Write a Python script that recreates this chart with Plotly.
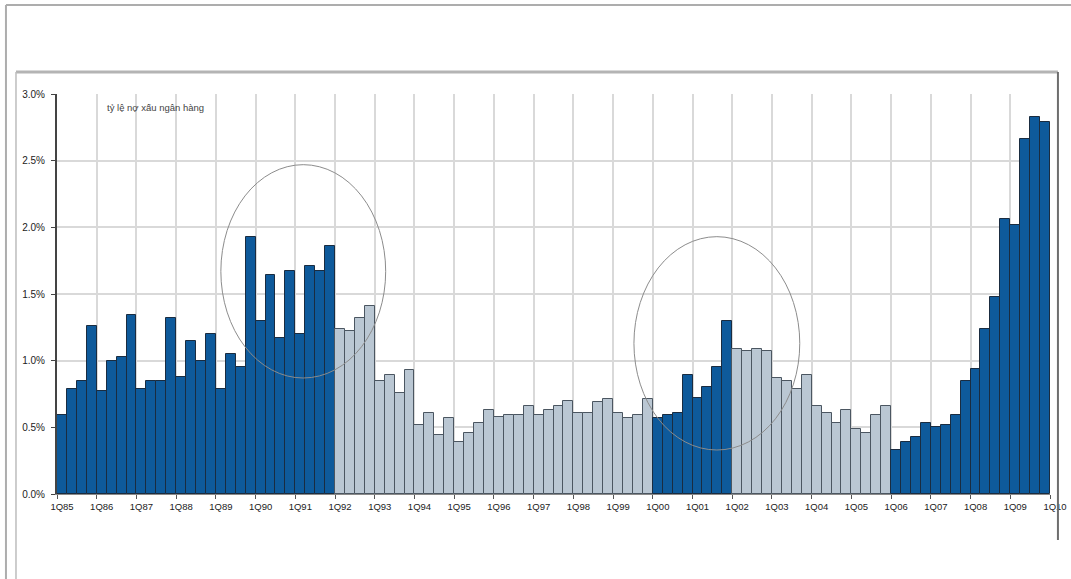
import plotly.graph_objects as go

# Quarterly labels 1Q85 .. 4Q09
years = [f"{y % 100:02d}" for y in range(1985, 2010)]
quarters = [f"{q}Q{yy}" for yy in years for q in range(1, 5)]

# Ratio (%) for each quarter
ratio = [
    0.59, 0.79, 0.85, 1.26, 0.77, 1.00, 1.03, 1.34,   # 1985-1986
    0.79, 0.85, 0.85, 1.32, 0.88, 1.15, 1.00, 1.20,   # 1987-1988
    0.79, 1.05, 0.95, 1.93, 1.30, 1.64, 1.17, 1.67,   # 1989-1990
    1.20, 1.71, 1.67, 1.86, 1.24, 1.22, 1.32, 1.41,   # 1991-1992
    0.85, 0.89, 0.76, 0.93, 0.52, 0.61, 0.44, 0.57,   # 1993-1994
    0.39, 0.46, 0.53, 0.63, 0.58, 0.59, 0.59, 0.66,   # 1995-1996
    0.59, 0.63, 0.66, 0.70, 0.61, 0.61, 0.69, 0.71,   # 1997-1998
    0.61, 0.57, 0.59, 0.71, 0.57, 0.59, 0.61, 0.89,   # 1999-2000
    0.72, 0.80, 0.95, 1.30, 1.09, 1.07, 1.09, 1.07,   # 2001-2002
    0.87, 0.85, 0.79, 0.89, 0.66, 0.61, 0.53, 0.63,   # 2003-2004
    0.49, 0.46, 0.59, 0.66, 0.33, 0.39, 0.43, 0.53,   # 2005-2006
    0.50, 0.52, 0.59, 0.85, 0.94, 1.24, 1.48, 2.06,   # 2007-2008
    2.02, 2.66, 2.83, 2.79,                           # 2009
]

# Periods drawn in dark blue (first and last quarter of each)
dark_periods = [("1Q85", "4Q91"), ("1Q00", "4Q01"), ("1Q06", "4Q09")]

# Axis labels, one per year, plus the closing 1Q10
year_labels = [f"1Q{yy}" for yy in years] + ["1Q10"]
y_ticks = [0.0, 0.5, 1.0, 1.5, 2.0, 2.5, 3.0]

caption = "tỷ lệ nợ xấu ngân hàng"

DARK_FILL, DARK_LINE = "#0E5A9B", "#1A2C40"
LIGHT_FILL, LIGHT_LINE = "#BAC7D3", "#4B5661"

idx = {q: i for i, q in enumerate(quarters)}
is_dark = [False] * len(quarters)
for a, b in dark_periods:
    for i in range(idx[a], idx[b] + 1):
        is_dark[i] = True

xs = list(range(len(quarters)))
fig = go.Figure(
    go.Bar(
        x=xs,
        y=ratio,
        customdata=quarters,
        marker=dict(
            color=[DARK_FILL if d else LIGHT_FILL for d in is_dark],
            line=dict(color=[DARK_LINE if d else LIGHT_LINE for d in is_dark], width=1),
        ),
        hovertemplate="%{customdata}: %{y:.2f}%<extra></extra>",
    )
)

# Hand-drawn style rings around the two peaks (x in quarter index, y in %)
ring_style = dict(color="#8C8C8C", width=1)
fig.add_shape(type="circle", xref="x", yref="y", x0=16.0, x1=32.6, y0=0.87, y1=2.47, line=ring_style)
fig.add_shape(type="circle", xref="x", yref="y", x0=57.6, x1=74.3, y0=0.33, y1=1.93, line=ring_style)

fig.add_annotation(
    x=4.3, y=2.90, xref="x", yref="y", text=caption, showarrow=False,
    xanchor="left", yanchor="middle",
    font=dict(family="Liberation Sans Narrow, Liberation Sans, Arial", size=9.5, color="#444444"),
)

# Page frame lines
fig.add_shape(type="line", xref="paper", yref="paper", x0=-0.0514, x1=1.04, y0=1.2225, y1=1.2225,
              line=dict(color="#ADADAD", width=2))
fig.add_shape(type="line", xref="paper", yref="paper", x0=-0.0514, x1=-0.0514, y0=1.2225, y1=-0.22,
              line=dict(color="#ADADAD", width=2))
fig.add_shape(type="line", xref="paper", yref="paper", x0=-0.0413, x1=1.008, y0=1.055, y1=1.055,
              line=dict(color="#B4B4B4", width=3))
fig.add_shape(type="line", xref="paper", yref="paper", x0=-0.0413, x1=-0.0413, y0=1.055, y1=-0.22,
              line=dict(color="#BDBDBD", width=1.5))
fig.add_shape(type="line", xref="paper", yref="paper", x0=1.008, x1=1.008, y0=1.055, y1=-0.115,
              line=dict(color="#6E6E6E", width=2))

x_font = dict(family="Liberation Sans Narrow, Liberation Sans, Arial", size=9.5, color="#222222")
y_font = dict(family="Liberation Sans Narrow, Liberation Sans, Arial", size=10, color="#222222")

fig.update_layout(
    width=1071, height=579,
    margin=dict(l=57, r=21, t=94, b=85, autoexpand=False),
    paper_bgcolor="white", plot_bgcolor="white",
    bargap=0, showlegend=False,
    xaxis=dict(
        range=[-0.5, len(quarters) - 0.5],
        tickmode="array",
        tickvals=[4 * k - 0.5 for k in range(len(year_labels))],
        ticktext=year_labels,
        ticklabelshift=5,
        ticklabeloverflow="allow",
        automargin=False,
        ticks="outside", ticklen=4, tickcolor="#555555",
        showgrid=True, gridcolor="#D9D9D9", gridwidth=2,
        showline=True, linecolor="#8A8A8A", linewidth=1,
        tickfont=x_font, zeroline=False,
    ),
    yaxis=dict(
        range=[0, 3.0],
        tickmode="array",
        tickvals=y_ticks,
        ticktext=[f"{v:.1f}%" for v in y_ticks],
        automargin=False,
        ticks="outside", ticklen=4, tickcolor="#444444",
        ticklabelstandoff=4,
        showgrid=True, gridcolor="#D9D9D9", gridwidth=2,
        showline=True, linecolor="#444444", linewidth=2,
        tickfont=y_font, zeroline=False,
    ),
)

fig.write_html("out.html")
